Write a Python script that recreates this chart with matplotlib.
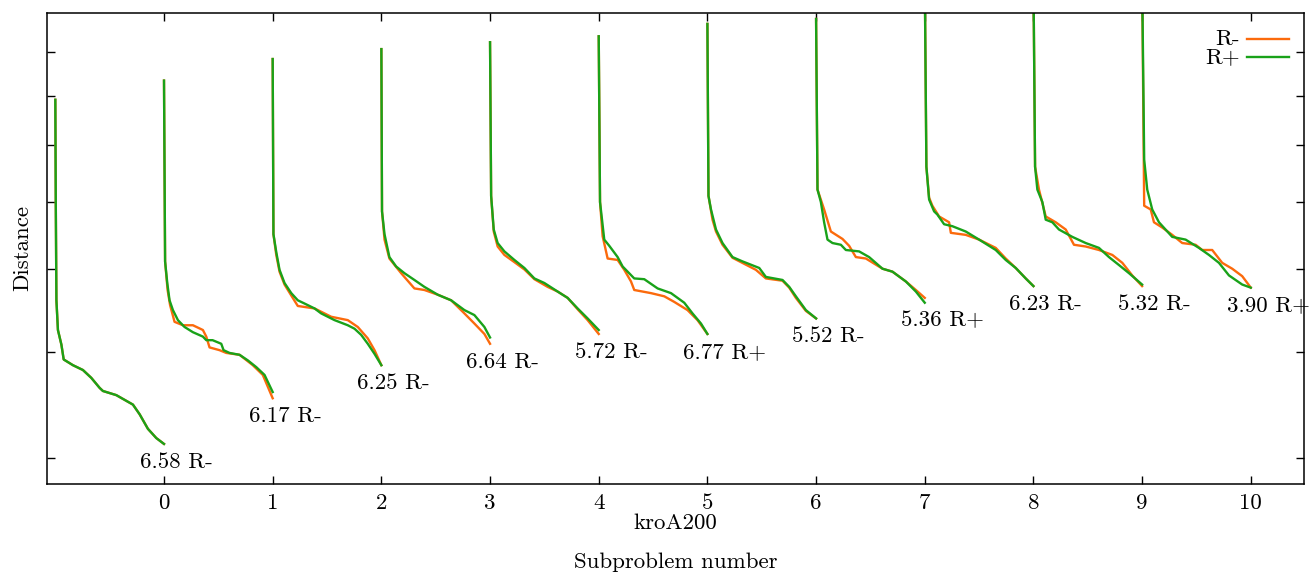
import numpy as np
import matplotlib
matplotlib.use("Agg")
import matplotlib.pyplot as plt
from matplotlib.ticker import NullLocator

plt.rcParams['font.family'] = 'cmr10'
plt.rcParams['axes.formatter.use_mathtext'] = True

# Distance (in thousands) against progress inside each subproblem (0..1)
# subproblem k is drawn from x = k-1 to x = k
rminus_prog = [
    [0, 0.004, 0.01, 0.024, 0.056, 0.077, 0.162, 0.254, 0.331, 0.408, 0.438, 0.561, 0.714, 0.776, 0.852, 0.929, 1.0],
    [0, 0.01, 0.033, 0.056, 0.097, 0.174, 0.266, 0.358, 0.389, 0.419, 0.511, 0.573, 0.695, 0.817, 0.909, 1.0],
    [0, 0.007, 0.033, 0.063, 0.109, 0.171, 0.231, 0.385, 0.538, 0.691, 0.783, 0.875, 0.937, 1.0],
    [0, 0.006, 0.029, 0.074, 0.182, 0.304, 0.396, 0.519, 0.642, 0.764, 0.856, 0.948, 1.0],
    [0, 0.01, 0.034, 0.07, 0.132, 0.224, 0.316, 0.408, 0.53, 0.622, 0.714, 0.806, 0.898, 1.0],
    [0, 0.012, 0.036, 0.082, 0.174, 0.235, 0.297, 0.327, 0.481, 0.603, 0.695, 0.817, 0.909, 1.0],
    [0, 0.01, 0.047, 0.079, 0.139, 0.231, 0.446, 0.538, 0.691, 0.753, 0.814, 0.906, 1.0],
    [0, 0.013, 0.074, 0.136, 0.243, 0.304, 0.366, 0.458, 0.611, 0.703, 0.826, 0.918, 1.0],
    [0, 0.015, 0.04, 0.07, 0.132, 0.224, 0.24, 0.377, 0.5, 0.653, 0.745, 0.837, 0.929, 1.0],
    [0, 0.015, 0.051, 0.113, 0.205, 0.297, 0.373, 0.481, 0.603, 0.726, 0.818, 0.909, 1.0],
    [0, 0.019, 0.079, 0.109, 0.185, 0.277, 0.369, 0.492, 0.553, 0.645, 0.737, 0.829, 0.921, 1.0],
]
rminus_dist = [
    [79.1, 60.4, 46.0, 42.45, 40.8, 39.2, 38.6, 38.1, 37.3, 36.3, 36.0, 35.6, 34.7, 33.8, 32.5, 31.7, 31.2],
    [83.3, 51.1, 47.3, 45.4, 43.4, 43.0, 43.0, 42.45, 41.7, 40.5, 40.2, 39.9, 39.7, 38.6, 37.6, 35.3],
    [88.3, 55.0, 52.0, 49.7, 48.0, 46.6, 45.3, 45.0, 44.0, 43.6, 42.8, 41.5, 40.2, 38.6],
    [90.7, 58.5, 54.2, 51.5, 49.5, 47.5, 47.3, 46.7, 46.0, 44.4, 43.2, 42.0, 40.9],
    [92.4, 61.0, 55.4, 53.2, 52.0, 51.0, 50.0, 48.7, 47.7, 47.1, 46.3, 44.9, 43.6, 42.0],
    [93.9, 60.0, 54.7, 51.5, 51.3, 49.95, 48.4, 47.3, 46.9, 46.5, 45.8, 44.8, 43.6, 42.0],
    [97.1, 61.0, 57.2, 55.4, 53.45, 51.6, 49.95, 48.8, 48.5, 47.6, 46.3, 44.7, 43.8],
    [98.4, 62.05, 58.8, 55.4, 54.3, 53.3, 51.7, 51.5, 50.1, 49.7, 48.4, 47.3, 46.3],
    [110, 66.0, 60.7, 59.4, 57.7, 56.8, 55.2, 54.9, 54.2, 53.0, 51.5, 50.2, 48.8, 47.8],
    [110, 66.0, 62.05, 57.7, 56.8, 55.7, 53.45, 53.2, 52.7, 52.0, 50.9, 49.2, 47.8],
    [110, 59.4, 58.8, 56.8, 56.0, 54.9, 53.7, 53.45, 52.7, 52.7, 50.9, 50.1, 49.1, 47.6],
]

rplus_prog = [
    [0, 0.004, 0.01, 0.024, 0.056, 0.077, 0.162, 0.254, 0.331, 0.408, 0.438, 0.561, 0.714, 0.776, 0.852, 0.929, 1.0],
    [0, 0.01, 0.03, 0.051, 0.082, 0.128, 0.189, 0.266, 0.358, 0.389, 0.447, 0.527, 0.548, 0.603, 0.695, 0.772, 0.849, 0.925, 1.0],
    [0, 0.007, 0.033, 0.063, 0.109, 0.171, 0.231, 0.293, 0.385, 0.446, 0.569, 0.691, 0.753, 0.814, 0.875, 0.937, 1.0],
    [0, 0.006, 0.029, 0.074, 0.136, 0.212, 0.304, 0.396, 0.519, 0.642, 0.764, 0.856, 0.948, 1.0],
    [0, 0.01, 0.034, 0.07, 0.132, 0.224, 0.316, 0.408, 0.5, 0.622, 0.714, 0.806, 0.898, 1.0],
    [0, 0.012, 0.051, 0.097, 0.174, 0.22, 0.327, 0.419, 0.542, 0.665, 0.787, 0.863, 0.941, 1.0],
    [0, 0.01, 0.033, 0.079, 0.139, 0.231, 0.323, 0.477, 0.538, 0.691, 0.753, 0.814, 0.906, 1.0],
    [0, 0.013, 0.044, 0.074, 0.105, 0.151, 0.228, 0.274, 0.396, 0.488, 0.611, 0.703, 0.826, 0.918, 1.0],
    [0, 0.015, 0.04, 0.086, 0.116, 0.178, 0.254, 0.377, 0.5, 0.653, 0.745, 0.837, 0.929, 1.0],
    [0, 0.015, 0.036, 0.082, 0.113, 0.174, 0.235, 0.358, 0.481, 0.603, 0.695, 0.787, 0.879, 1.0],
    [0, 0.019, 0.047, 0.093, 0.155, 0.277, 0.4, 0.523, 0.615, 0.707, 0.799, 0.921, 1.0],
]
rplus_dist = [
    [79.1, 60.4, 46.0, 42.45, 40.8, 39.2, 38.6, 38.1, 37.3, 36.3, 36.0, 35.6, 34.7, 33.8, 32.5, 31.7, 31.2],
    [83.3, 51.1, 48.2, 46.0, 44.8, 43.6, 42.8, 42.2, 41.7, 41.3, 41.3, 40.9, 40.2, 39.9, 39.7, 39.1, 38.4, 37.6, 35.9],
    [88.3, 55.0, 52.4, 49.95, 48.2, 46.9, 46.0, 45.6, 45.0, 44.4, 43.6, 43.0, 42.6, 41.9, 40.9, 39.8, 38.6],
    [90.7, 58.5, 55.0, 51.7, 50.4, 49.5, 48.6, 47.7, 46.7, 46.0, 44.8, 44.2, 42.8, 41.6],
    [92.4, 61.0, 55.7, 53.7, 52.5, 51.3, 50.2, 48.8, 48.2, 47.1, 46.3, 45.0, 43.8, 42.45],
    [93.9, 60.0, 54.2, 53.3, 51.7, 50.4, 48.8, 48.7, 47.5, 46.9, 45.7, 44.4, 43.2, 42.0],
    [97.1, 61.0, 58.8, 55.7, 53.7, 51.7, 51.1, 50.2, 49.0, 48.6, 47.7, 46.5, 44.8, 43.8],
    [98.4, 62.05, 60.0, 56.8, 54.2, 53.7, 53.45, 52.7, 52.5, 51.7, 50.1, 49.7, 48.4, 47.1, 45.7],
    [110, 66.0, 60.4, 58.5, 58.0, 56.5, 56.2, 55.4, 54.2, 52.7, 51.3, 50.2, 48.8, 47.8],
    [110, 66.0, 62.05, 60.0, 57.2, 56.8, 55.7, 54.6, 53.7, 53.0, 51.7, 50.6, 49.5, 48.0],
    [110, 67.3, 62.05, 58.8, 56.8, 54.6, 54.2, 53.0, 52.0, 50.9, 49.2, 48.0, 47.6],
]

end_labels = ["6.58 R-", "6.17 R-", "6.25 R-", "6.64 R-", "5.72 R-", "6.77 R+",
              "5.52 R-", "5.36 R+", "6.23 R-", "5.32 R-", "3.90 R+"]
xtick_vals = list(range(0, 11))
ytick_vals = [30, 40, 50, 60, 70, 80, 90]

c_minus = '#fb6a0c'
c_plus = '#19a219'
fs = 16.5

fig = plt.figure(figsize=(13.11, 5.75), dpi=100)
ax = fig.add_axes([0.0359, 0.1583, 0.9588, 0.8191])

for k in range(len(end_labels)):
    xm = np.array(rminus_prog[k]) + k - 1
    xp = np.array(rplus_prog[k]) + k - 1
    ax.plot(xm, rminus_dist[k], color=c_minus, lw=1.7)
    ax.plot(xp, rplus_dist[k], color=c_plus, lw=1.7)
    low = min(rminus_dist[k][-1], rplus_dist[k][-1])
    ax.annotate(end_labels[k], xy=(k, low), xytext=(-24, -18),
                textcoords='offset pixels', ha='left', va='center', fontsize=fs)

ax.set_yscale('log')
ax.set_xlim(-1.076, 10.49)
ax.set_ylim(28, 100)
ax.set_xticks(xtick_vals)
ax.set_xticklabels([str(v) for v in xtick_vals], fontsize=fs)
ax.set_yticks(ytick_vals)
ax.set_yticklabels([])
ax.yaxis.set_minor_locator(NullLocator())
ax.xaxis.set_minor_locator(NullLocator())
ax.tick_params(direction='in', length=6, width=1, top=True, right=True, pad=7)
for sp in ax.spines.values():
    sp.set_linewidth(1.1)

ax.set_ylabel("Distance", fontsize=fs, labelpad=4)
ax.set_xlabel("Subproblem number", fontsize=fs, labelpad=28)
ax.text(0.5, -0.083, "kroA200", transform=ax.transAxes, ha='center', va='center', fontsize=fs)

# key in the upper right corner
ax.text(0.949, 0.9448, "R-", transform=ax.transAxes, ha='right', va='center', fontsize=fs)
ax.text(0.949, 0.9066, "R+", transform=ax.transAxes, ha='right', va='center', fontsize=fs)
ax.plot([0.9547, 0.9881], [0.9448, 0.9448], transform=ax.transAxes, color=c_minus, lw=1.7)
ax.plot([0.9547, 0.9881], [0.9066, 0.9066], transform=ax.transAxes, color=c_plus, lw=1.7)

fig.savefig("out.png", dpi=100)
